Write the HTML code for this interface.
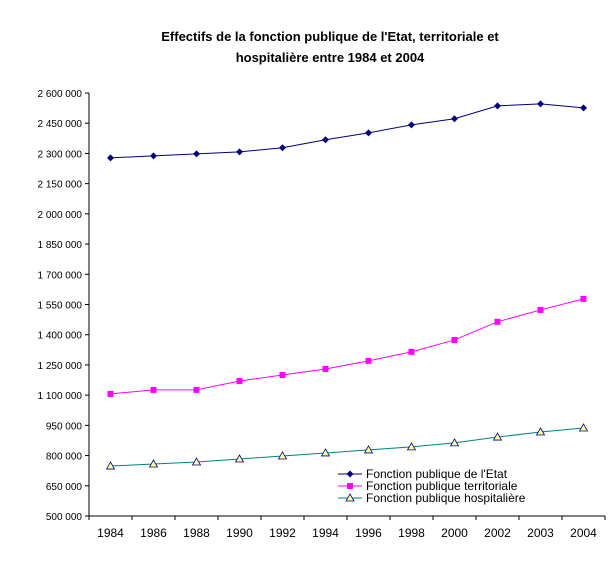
<!DOCTYPE html>
<html><head><meta charset="utf-8"><style>
body{margin:0;background:#fff;font-family:"Liberation Sans",Arial,sans-serif}
svg text{font-family:"Liberation Sans",Arial,sans-serif}
</style></head><body>
<svg id="c" width="609" height="580" xmlns="http://www.w3.org/2000/svg">
<text x="330" y="41" text-anchor="middle" font-size="13" font-weight="bold">Effectifs de la fonction publique de l'Etat, territoriale et</text>
<text x="330" y="62" text-anchor="middle" font-size="13" font-weight="bold">hospitalière entre 1984 et 2004</text>
<g id="axes"></g><g id="series"></g>
<g>
<line x1="338" y1="474" x2="362" y2="474" stroke="#000080"/><path d="M350 470.5L353.5 474L350 477.5L346.5 474Z" fill="#000080"/>
<text x="366" y="478" font-size="12">Fonction publique de l'Etat</text>
<line x1="338" y1="486" x2="362" y2="486" stroke="#ff00ff"/><rect x="347" y="483" width="6" height="6" fill="#ff00ff"/>
<text x="366" y="490" font-size="12">Fonction publique territoriale</text>
<line x1="338" y1="498" x2="362" y2="498" stroke="#008080"/><path d="M350 494L354 501L346 501Z" fill="#ffff99" stroke="#000080" stroke-width="0.8"/>
<text x="366" y="502" font-size="12">Fonction publique hospitalière</text>
</g>
</svg>
<script>
const categories=["1984","1986","1988","1990","1992","1994","1996","1998","2000","2002","2003","2004"];
const etat=[2278000,2288000,2298000,2308000,2328000,2368000,2402000,2442000,2472000,2536000,2546000,2526000];
const territoriale=[1106000,1126000,1126000,1170000,1200000,1230000,1270000,1315000,1374000,1464000,1523000,1578000];
const hospitaliere=[748000,758000,768000,783000,798000,813000,828000,843000,863000,892000,917000,937000];
const yTicks=[500000,650000,800000,950000,1100000,1250000,1400000,1550000,1700000,1850000,2000000,2150000,2300000,2450000,2600000];
const NS="http://www.w3.org/2000/svg";
const X0=89,X1=605,Y0=516,Y1=93;
const x=i=>X0+(i+0.5)*(X1-X0)/categories.length;
const y=v=>Y0-(v-500000)/(2600000-500000)*(Y0-Y1);
function mk(t,a,p){const e=document.createElementNS(NS,t);for(const k in a)e.setAttribute(k,a[k]);p.appendChild(e);return e;}
const ax=document.getElementById('axes'),se=document.getElementById('series');
let l=mk('line',{x1:X0,y1:Y1,x2:X0,y2:Y0,stroke:'#000'},ax);


l=mk('line',{x1:X0,y1:Y0,x2:X1,y2:Y0,stroke:'#000'},ax);


const fmt=v=>String(v).replace(/\B(?=(\d{3})+(?!\d))/g,' ');
yTicks.forEach(v=>{mk('line',{x1:X0-4,y1:y(v),x2:X0,y2:y(v),stroke:'#000'},ax);
const t=mk('text',{x:X0-7,y:y(v)+4,'text-anchor':'end','font-size':'10'},ax);t.textContent=fmt(v);

});
categories.forEach((c,i)=>{const xb=X0+i*(X1-X0)/categories.length;mk('line',{x1:xb,y1:Y0,x2:xb,y2:Y0+4,stroke:'#000'},ax);
const t=mk('text',{x:x(i),y:Y0+21,'text-anchor':'middle','font-size':'12'},ax);t.textContent=c;

});
mk('line',{x1:X1,y1:Y0,x2:X1,y2:Y0+4,stroke:'#000'},ax);
function series(d,col,name,marker){const g=mk('g',{},se);


mk('polyline',{points:d.map((v,i)=>x(i)+','+y(v)).join(' '),fill:'none',stroke:col},g);
d.forEach((v,i)=>{const cx=x(i),cy=y(v);let m;
if(marker==='d')m=mk('path',{d:`M${cx} ${cy-3.5}L${cx+3.5} ${cy}L${cx} ${cy+3.5}L${cx-3.5} ${cy}Z`,fill:'#000080'},g);
else if(marker==='s')m=mk('rect',{x:cx-3,y:cy-3,width:6,height:6,fill:'#ff00ff'},g);
else m=mk('path',{d:`M${cx} ${cy-4}L${cx+4} ${cy+3}L${cx-4} ${cy+3}Z`,fill:'#ffff99',stroke:'#000080','stroke-width':0.8},g);

});}
series(etat,'#000080','series-etat','d');
series(territoriale,'#ff00ff','series-territoriale','s');
series(hospitaliere,'#008080','series-hospitaliere','t');
</script>
</body></html>
